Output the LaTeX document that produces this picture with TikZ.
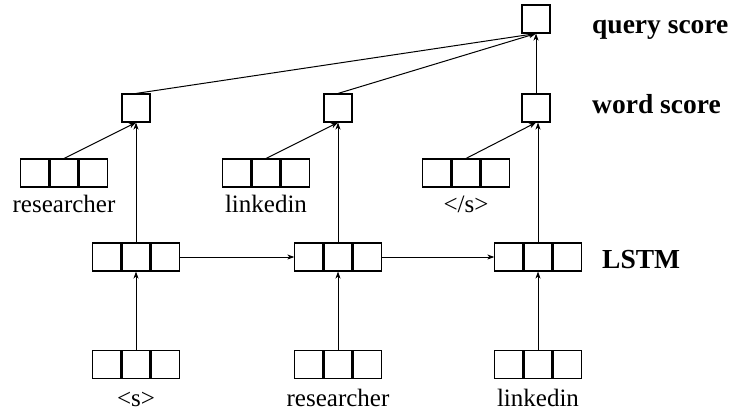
\documentclass[tikz,border=0pt]{standalone}
\usepackage{fontspec}
\setmainfont{Liberation Serif}
\usetikzlibrary{arrows.meta}
\begin{document}
\begin{tikzpicture}[x=1pt,y=-1pt,
  cell/.style={draw,line width=1.1pt,rectangle,minimum width=28pt,minimum height=28pt,inner sep=0pt},
  lbl/.style={anchor=base,inner sep=0pt,font=\fontsize{25}{30}\selectfont},
  rlbl/.style={anchor=base west,inner sep=0pt,font=\fontsize{27.5}{32}\selectfont\bfseries},
  conn/.style={line width=1pt},
  arr/.style={conn,-{Stealth[length=7pt,width=5pt,inset=2pt]}}]
\useasboundingbox (0,0) rectangle (730,412);
% three-cell boxes
\foreach \n/\x/\y in {l1/136/257,l2/338/257,l3/538/257,i1/136/364.5,i2/338/364.5,i3/538/364.5,s1/64/173,s2/266/173,s3/466/173}{
  \node[cell] (\n b) at (\x,\y) {};
  \node[cell,anchor=east] (\n a) at (\n b.west) {};
  \node[cell,anchor=west] (\n c) at (\n b.east) {};
}
% word score boxes
\node[cell] (w1) at (136,108) {};
\node[cell] (w2) at (338,108) {};
\node[cell] (w3) at (536,108) {};
\node[cell] (q) at (536,19) {};
% labels
\node[lbl] (t1) at (64,212) {researcher};
\node[lbl] (t2) at (266,212) {linkedin};
\node[lbl] (t3) at (466,212) {\textless/s\textgreater};
\node[lbl] (b1) at (136,406) {\textless s\textgreater};
\node[lbl] (b2) at (338,406) {researcher};
\node[lbl] (b3) at (538,406) {linkedin};
\node[rlbl] (rq) at (592,34) {query score};
\node[rlbl] (rw) at (592,113) {word score};
\node[rlbl] (rl) at (602,268) {LSTM};
% connectors
\foreach \k in {1,2,3}{
  \draw[arr] (i\k b.north) -- (l\k b.south);
  \draw[arr] (s\k b.north) -- (w\k.south);
}
\draw[arr] (l1b.north) -- (w1.south);
\draw[arr] (l2b.north) -- (w2.south);
\draw[arr] (l3b.north) -- (l3b.north |- w3.south);
\draw[arr] (l1c.east) -- (l2a.west);
\draw[arr] (l2c.east) -- (l3a.west);
\draw[arr] (w1.north) -- (q.south);
\draw[arr] (w2.north) -- (q.south);
\draw[arr] (w3.north) -- (q.south);
\end{tikzpicture}
\end{document}
